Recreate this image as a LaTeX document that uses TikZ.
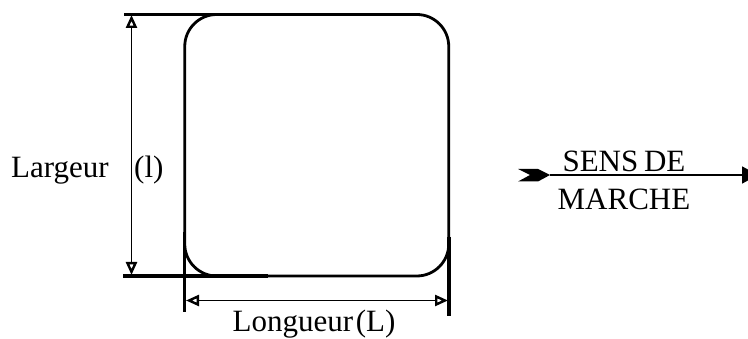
\documentclass[tikz,border=0pt]{standalone}
\usepackage{fontspec}
\setmainfont{Liberation Serif}
\usetikzlibrary{arrows.meta}

\begin{document}
\begin{tikzpicture}[x=1pt,y=-1pt]
	\useasboundingbox (0,0) rectangle (748,339);

	% table outline
	\node (cadre) at (316.75,145.25) [draw=black,line width=2.8pt,rounded corners=32pt,
		minimum width=264pt,minimum height=261.5pt,inner sep=0pt,outer sep=0pt] {};

	% end marks
	\coordinate (top0) at (124,14.5);
	\coordinate (top1) at (268,14.5);
	\coordinate (bot0) at (123,276);
	\coordinate (bot1) at (268,276);
	\coordinate (lft0) at (184.7,232);
	\coordinate (lft1) at (184.7,312);
	\coordinate (rgt0) at (449,237);
	\coordinate (rgt1) at (449,316.5);
	% dimension ends
	\coordinate (wid0) at (131.5,15);
	\coordinate (wid1) at (131.5,275);
	\coordinate (len0) at (186,300.5);
	\coordinate (len1) at (448,300.5);
	% direction arrow
	\coordinate (dir0) at (550,175);
	\coordinate (dir1) at (758,175);

	\begin{scope}[every path/.style={draw=black,line width=3.2pt}]
		\path (top0) -- (top1);
		\path (bot0) -- (bot1);
		\path (lft0) -- (lft1);
		\path (rgt0) -- (rgt1);
	\end{scope}

	\begin{scope}[>={Triangle[open,length=13pt,width=11pt,line width=2.4pt]},
				every path/.style={draw=black,line width=1.2pt}]
		\path [<->] (wid0) -- (wid1);
		\path [<->] (len0) -- (len1);
	\end{scope}

	% feather
	\fill [black] (dir0) -- ++(-12,-6) -- ++(-20,0) -- ++(12,6) -- ++(-12,6.5) -- ++(20,0) -- cycle;
	\path [draw=black,line width=1.8pt,-{Triangle[length=16pt,width=17pt]}] (dir0) -- (dir1);

	\begin{scope}[every node/.style={font=\fontsize{31}{34}\selectfont,inner sep=0pt,text=black}]
		\node (largeur) [anchor=base west] at (11,178) {Largeur};
		\node (lettrel) [anchor=base west] at (134,178) {(l)};
		\node (longueur) [anchor=base] at (314,332) {Longueur\kern-5pt\ (L)};
		\node (sens) [anchor=base] at (624,172) {SENS\kern-2pt\ DE};
		\node (marche) [anchor=base] at (624,210) {MARCHE};
	\end{scope}
\end{tikzpicture}
\end{document}
